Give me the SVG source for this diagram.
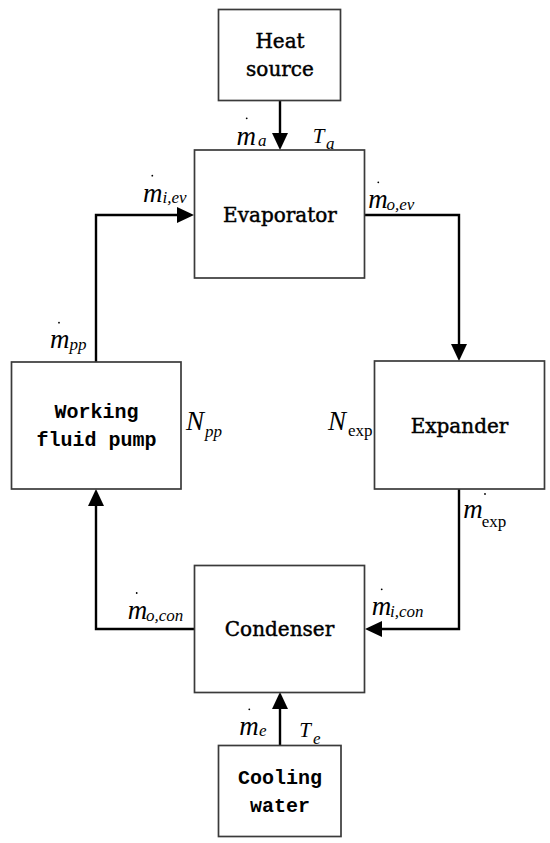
<svg xmlns="http://www.w3.org/2000/svg" width="550" height="843" viewBox="0 0 550 843">
<style>
.box{fill:#fff;stroke:#3a3a3a;stroke-width:1.7}
.ln{fill:none;stroke:#000;stroke-width:2.4}
.ah{fill:#000}
.lbl{font-family:"DejaVu Serif","Liberation Serif",serif;font-size:20px;fill:#000;stroke:#000;stroke-width:0.45;text-anchor:middle}
.mono{font-family:"Liberation Mono","DejaVu Sans Mono",monospace;font-size:20px;font-weight:bold;fill:#000;text-anchor:middle}
.m{font-family:"Liberation Serif","Times New Roman",serif;font-style:italic;font-size:27px;fill:#000}
.sub{font-family:"Liberation Serif","Times New Roman",serif;font-style:italic;font-size:17px;fill:#000}
.subr{font-family:"Liberation Serif","Times New Roman",serif;font-size:17px;fill:#000}
.T{font-family:"Liberation Serif","Times New Roman",serif;font-style:italic;font-size:21px;fill:#000}
.dot{fill:#000}
</style>
<g id="connectors">
<line class="ln" x1="280" y1="101" x2="280" y2="134"/>
<polygon class="ah" points="272,133 288,133 280,150"/>
<path class="ln" d="M364,215 H459 V345"/>
<polygon class="ah" points="451,344 467,344 459,361"/>
<path class="ln" d="M459,489 V629 H381"/>
<polygon class="ah" points="382,621 382,637 365,629"/>
<path class="ln" d="M195,629 H96 V505"/>
<polygon class="ah" points="88,506 104,506 96,489"/>
<path class="ln" d="M96,362 V215 H178"/>
<polygon class="ah" points="177,207 177,223 194,215"/>
<line class="ln" x1="280" y1="746" x2="280" y2="708"/>
<polygon class="ah" points="272,709 288,709 280,692"/>
</g>
<g id="heat-source">
<rect class="box" x="218.5" y="9.5" width="122" height="91"/>
<text class="lbl" x="280" y="47.5">Heat</text>
<text class="lbl" x="280" y="76">source</text>
</g>
<g id="evaporator">
<rect class="box" x="194.5" y="150" width="170" height="128"/>
<text class="lbl" x="280" y="222">Evaporator</text>
</g>
<g id="expander">
<rect class="box" x="374.5" y="361" width="170" height="128"/>
<text class="lbl" x="459.5" y="433">Expander</text>
</g>
<g id="pump">
<rect class="box" x="11.5" y="362" width="169.5" height="127"/>
<text class="mono" x="96.5" y="418">Working</text>
<text class="mono" x="96.5" y="446">fluid pump</text>
</g>
<g id="condenser">
<rect class="box" x="194.5" y="565.5" width="170" height="127"/>
<text class="lbl" x="279.5" y="636">Condenser</text>
</g>
<g id="cooling-water">
<rect class="box" x="218.5" y="745.5" width="122.5" height="91"/>
<text class="mono" x="280" y="784">Cooling</text>
<text class="mono" x="280" y="812">water</text>
</g>
<g id="labels">
<circle class="dot" cx="246.7" cy="118.3" r="0.9"/>
<text class="m" x="236.5" y="145">m</text><text class="sub" x="258" y="146">a</text>
<text class="T" x="312.7" y="142.7">T</text><text class="sub" x="326" y="148.5">a</text>
<circle class="dot" cx="152.3" cy="175.7" r="0.9"/>
<text class="m" x="143" y="202">m</text><text class="sub" x="162.5" y="203">i,ev</text>
<circle class="dot" cx="378.3" cy="182.3" r="0.9"/>
<text class="m" x="368.3" y="208.3">m</text><text class="sub" x="386.5" y="210">o,ev</text>
<circle class="dot" cx="59" cy="322.7" r="0.9"/>
<text class="m" x="50" y="347.7">m</text><text class="sub" x="69.5" y="349.5">pp</text>
<text class="m" x="186" y="430">N</text><text class="sub" x="205" y="437">pp</text>
<text class="m" x="328" y="430">N</text><text class="subr" x="348" y="436">exp</text>
<circle class="dot" cx="485" cy="494" r="0.9"/>
<text class="m" x="463.3" y="518.3">m</text><text class="subr" x="481.7" y="526.7">exp</text>
<circle class="dot" cx="381.7" cy="589.3" r="0.9"/>
<text class="m" x="371.7" y="615">m</text><text class="sub" x="390" y="617">i,con</text>
<circle class="dot" cx="136.7" cy="593" r="0.9"/>
<text class="m" x="127.7" y="619.3">m</text><text class="sub" x="146" y="621">o,con</text>
<circle class="dot" cx="249.3" cy="709.3" r="0.9"/>
<text class="m" x="239.3" y="735">m</text><text class="sub" x="259" y="735.5">e</text>
<text class="T" x="299.3" y="737.3">T</text><text class="sub" x="313" y="744">e</text>
</g>
</svg>
